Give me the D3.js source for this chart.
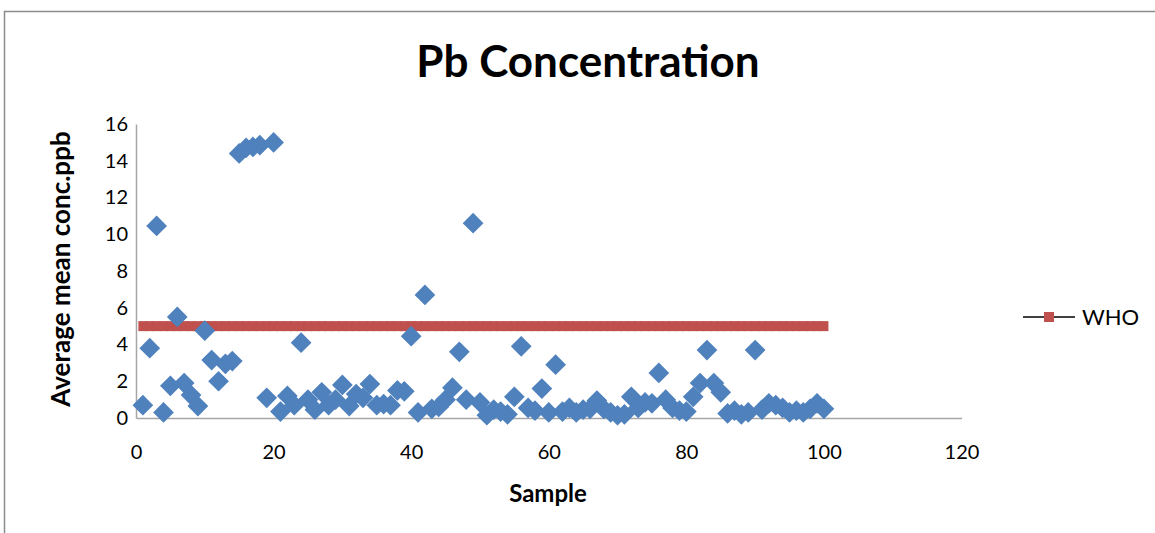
<!DOCTYPE html>
<html>
<head>
<meta charset="utf-8">
<script src="https://cdn.jsdelivr.net/npm/d3@7"></script>
<style>
  body { margin: 0; background: #fff; }
  text { font-family: Lato, "Open Sans", sans-serif; fill: #000; }
</style>
</head>
<body>
<div id="plotPb"></div>
<script>
// sample numbers 1..100
var samples = d3.range(1, 101);

// Pb average mean conc (ppb)
var pbValues = [
  0.7, 3.8, 10.45, 0.3, 1.75, 5.5, 1.9, 1.25, 0.65, 4.75,
  3.15, 2.0, 2.95, 3.1, 14.4, 14.7, 14.75, 14.85, 1.1, 15.0,
  0.35, 1.2, 0.7, 4.1, 1.0, 0.45, 1.4, 0.7, 1.0, 1.8,
  0.65, 1.3, 1.1, 1.85, 0.7, 0.75, 0.7, 1.5, 1.45, 4.45,
  0.3, 6.7, 0.5, 0.6, 1.0, 1.65, 3.6, 1.0, 10.6, 0.85,
  0.15, 0.45, 0.35, 0.2, 1.15, 3.9, 0.55, 0.4, 1.6, 0.3,
  2.9, 0.35, 0.55, 0.3, 0.45, 0.5, 0.95, 0.5, 0.3, 0.15,
  0.2, 1.15, 0.55, 0.85, 0.8, 2.45, 1.0, 0.55, 0.4, 0.35,
  1.15, 1.9, 3.7, 1.9, 1.4, 0.25, 0.4, 0.2, 0.3, 3.7,
  0.45, 0.8, 0.7, 0.55, 0.3, 0.4, 0.3, 0.5, 0.8, 0.5
];

// WHO guideline value
var whoLimit = 5;
var whoValues = samples.map(function(){ return whoLimit; });

var xTicks = [0, 20, 40, 60, 80, 100, 120];
var yTicks = [0, 2, 4, 6, 8, 10, 12, 14, 16];

var pbData = samples.map(function(s, i){ return {'s': s, 'v': pbValues[i]}; });
var whoData = samples.map(function(s, i){ return {'s': s, 'v': whoValues[i]}; });

var W = 1155, H = 533;
var margin = {top: 124, left: 136, right: 193, bottom: 115};

var svg = d3.select("#plotPb")
  .append("svg")
    .attr("width", W)
    .attr("height", H);

// chart frame
svg.append("rect")
  .attr("x", 4.5).attr("y", 11.5)
  .attr("width", W + 20).attr("height", H + 20)
  .style("fill", "none")
  .style("stroke", "#8c8c8c")
  .style("stroke-width", 1.5);

var x = d3.scaleLinear()
  .domain([0, 120])
  .range([margin.left, W - margin.right - 0.5]);
var y = d3.scaleLinear()
  .domain([0, 16])
  .range([H - margin.bottom, margin.top]);

// x axis
var xAxis = svg.append("g")
  .attr("transform", "translate(0," + y(0) + ")")
  .call(d3.axisBottom(x).tickValues(xTicks).tickSize(0).tickPadding(27));
xAxis.select(".domain").style("stroke", "#a6a6a6").style("stroke-width", 1.5);
xAxis.selectAll("text").style("font-size", "20px").style("font-family", "Lato, sans-serif").attr("fill", "#000");

// y axis
var yAxis = svg.append("g")
  .attr("transform", "translate(" + x(0) + ",0)")
  .call(d3.axisLeft(y).tickValues(yTicks).tickSize(0).tickPadding(8));
yAxis.select(".domain").style("stroke", "#a6a6a6").style("stroke-width", 1.5);
yAxis.selectAll("text").style("font-size", "20px").style("font-family", "Lato, sans-serif").attr("fill", "#000");

// WHO line with square markers
var line = d3.line()
  .x(function(d){ return x(d.s); })
  .y(function(d){ return y(d.v); });
svg.append("path")
  .datum(whoData)
  .attr("d", line)
  .style("fill", "none")
  .style("stroke", "#c0504d")
  .style("stroke-width", 3);
svg.append("g")
  .selectAll("rect")
  .data(whoData)
  .enter()
  .append("rect")
    .attr("x", function(d){ return x(d.s) - 4.5; })
    .attr("y", function(d){ return y(d.v) - 5; })
    .attr("width", 9)
    .attr("height", 10)
    .style("fill", "#c0504d");

// Pb diamonds
var diamond = d3.symbol().type(d3.symbolSquare).size(215);
svg.append("g")
  .selectAll("path")
  .data(pbData)
  .enter()
  .append("path")
    .attr("d", diamond)
    .attr("transform", function(d){
      return "translate(" + x(d.s) + "," + y(d.v) + ") rotate(45)";
    })
    .style("fill", "#4f81bd");

// title
svg.append("text")
  .attr("x", 588)
  .attr("y", 77)
  .attr("text-anchor", "middle")
  .style("font-size", "44px")
  .style("font-weight", "bold")
  .text("Pb Concentration");

// axis titles
svg.append("text")
  .attr("x", 548)
  .attr("y", 502)
  .attr("text-anchor", "middle")
  .style("font-size", "24px")
  .style("font-weight", "bold")
  .text("Sample");

svg.append("text")
  .attr("transform", "translate(70," + ((y(0) + y(16)) / 2 - 2) + ") rotate(-90)")
  .attr("text-anchor", "middle")
  .style("font-size", "26px")
  .style("font-weight", "bold")
  .text("Average mean conc.ppb");

// legend
var lg = svg.append("g").attr("transform", "translate(1023,317)");
lg.append("line")
  .attr("x1", 0).attr("x2", 52)
  .style("stroke", "#000")
  .style("stroke-width", 1.5);
lg.append("rect")
  .attr("x", 21).attr("y", -5)
  .attr("width", 10).attr("height", 10)
  .style("fill", "#c0504d");
lg.append("text")
  .attr("x", 59)
  .attr("y", 8)
  .style("font-size", "22px")
  .text("WHO");
</script>
</body>
</html>
